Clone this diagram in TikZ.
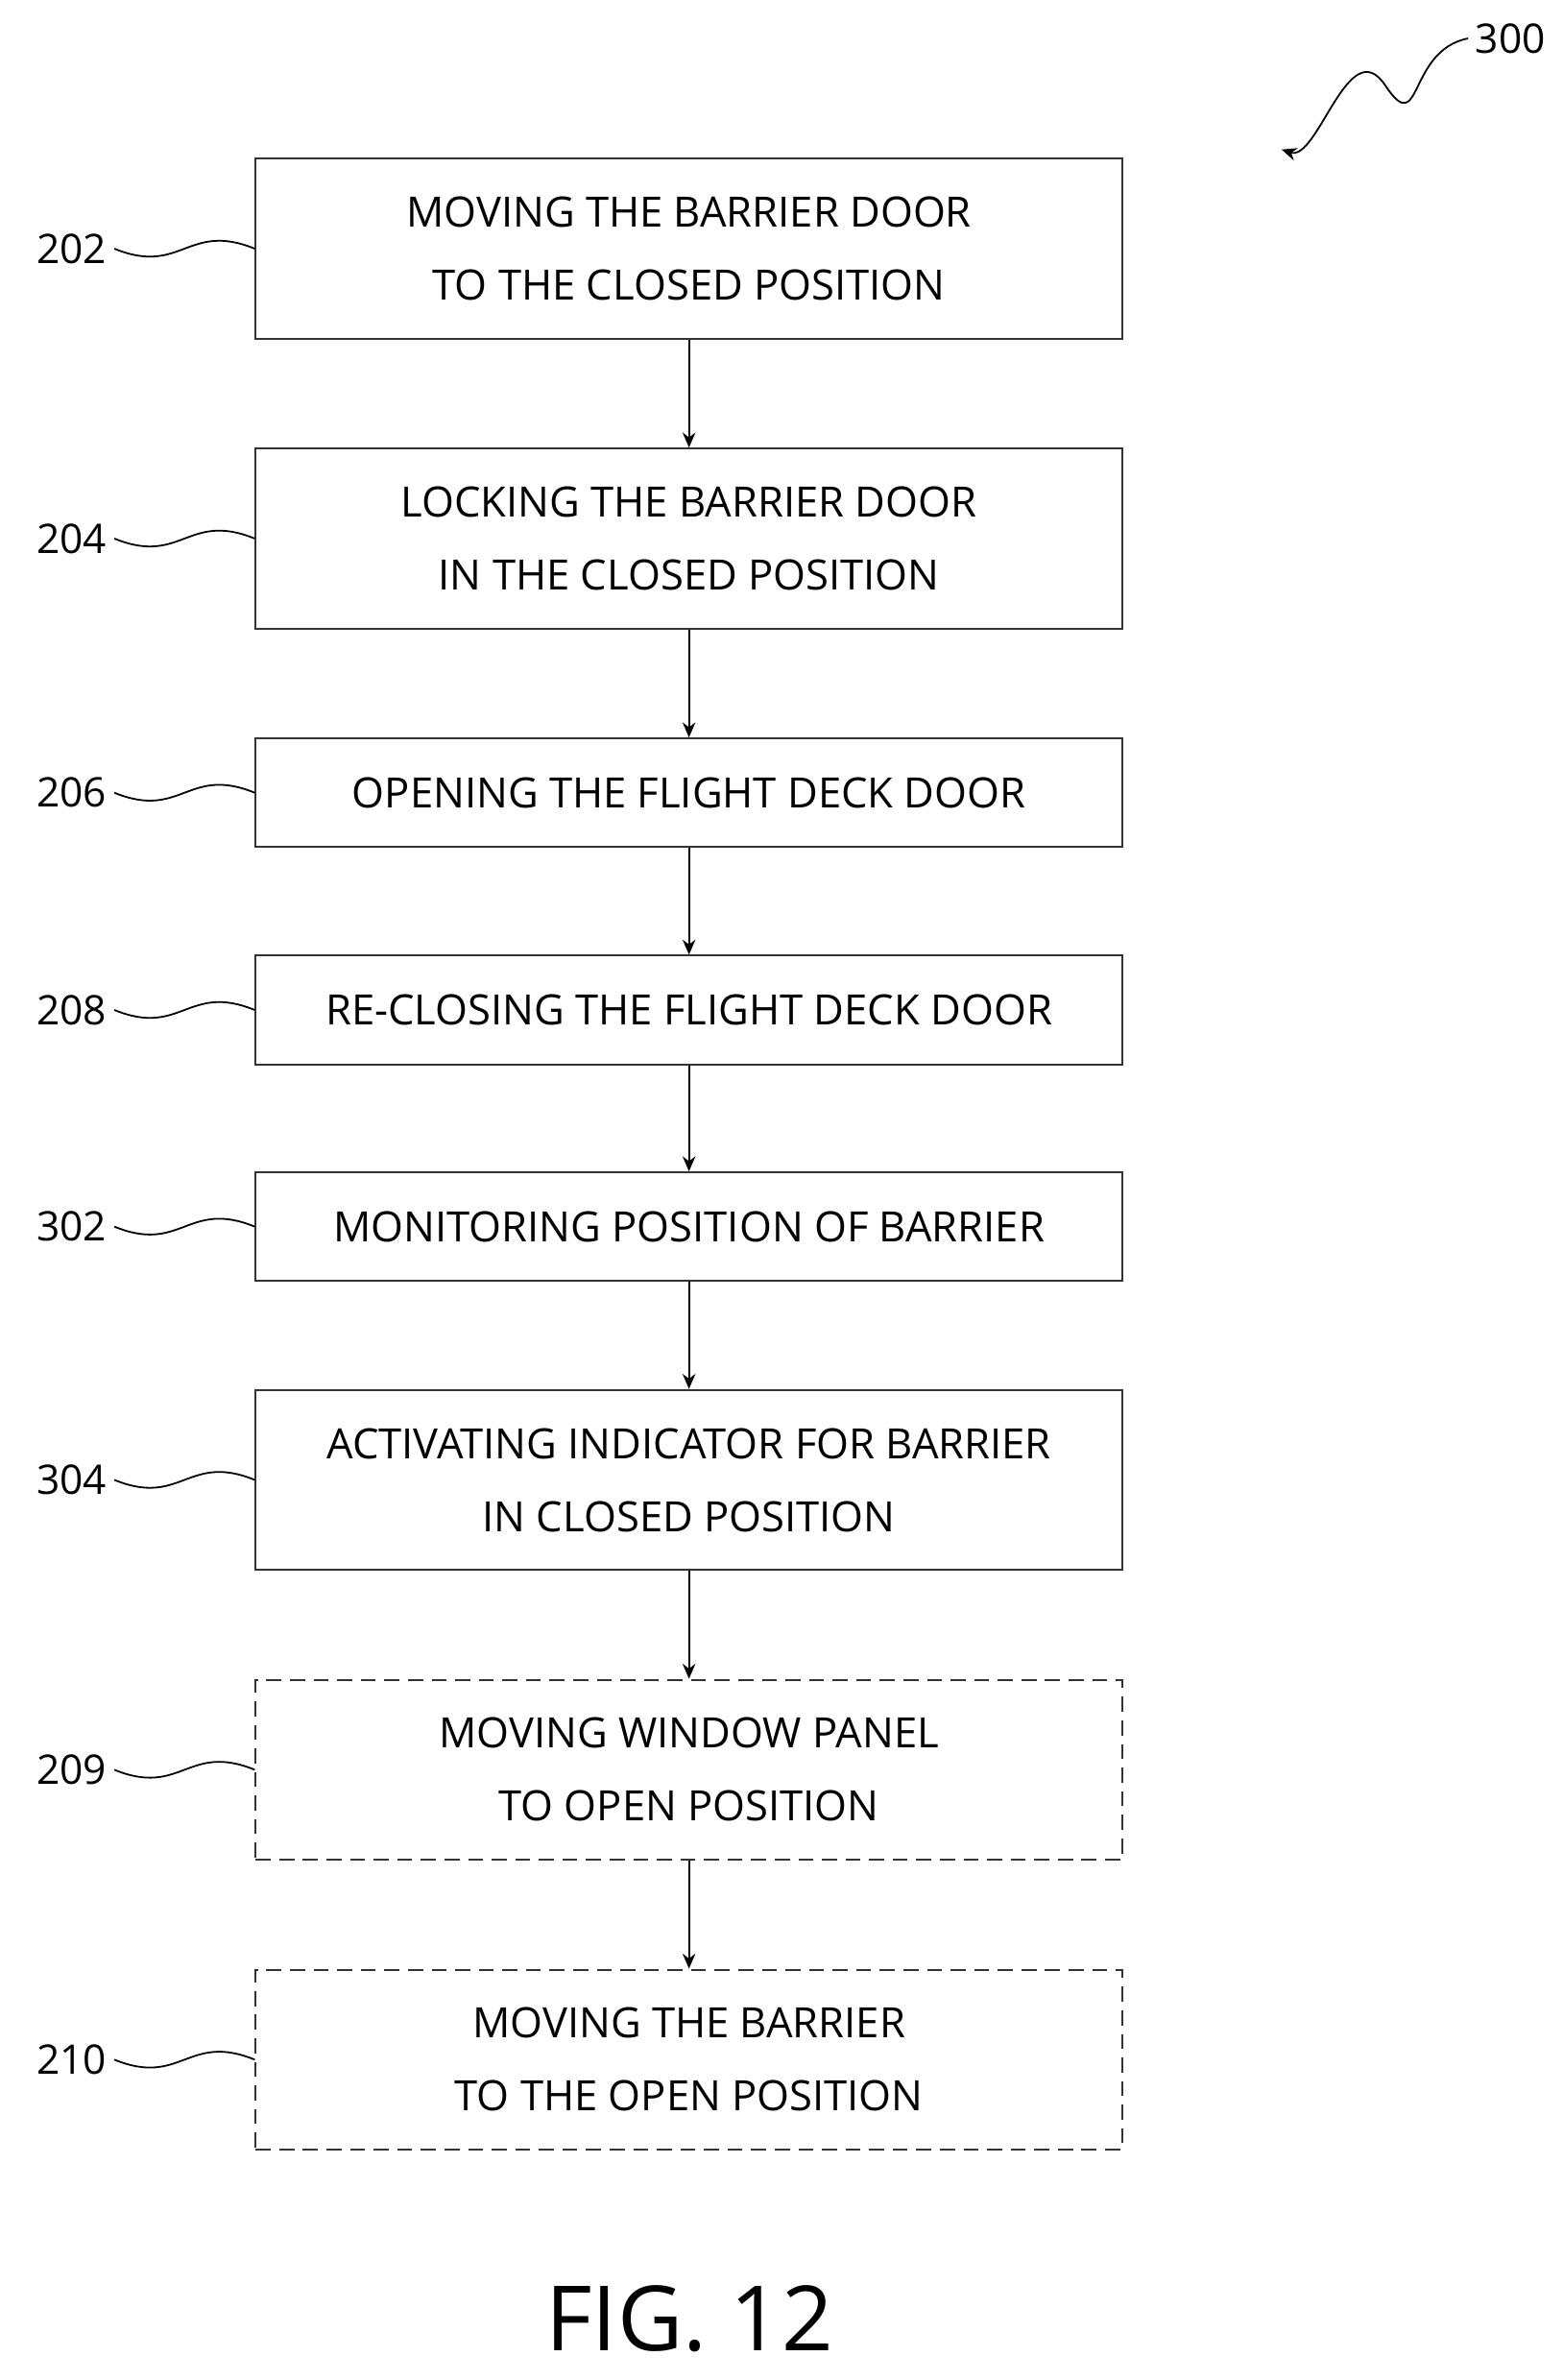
\documentclass[tikz,border=0pt]{standalone}
\usepackage{fontspec}
\setmainfont{Open Sans}
\usetikzlibrary{positioning,arrows.meta}
\tikzset{
  stage/.style = {draw=black!80, line width=0.9pt, minimum width=14.2cm, align=center,
                 font=\fontsize{19.5}{34}\selectfont},
  tall/.style = {stage, minimum height=2.95cm},
  short/.style = {stage, minimum height=1.78cm},
  optional/.style = {dash pattern=on 7pt off 4pt},
  tag/.style = {font=\fontsize{19}{22}\selectfont},
  lead/.style = {line width=0.8pt},
  flow/.style = {line width=0.8pt, -{Stealth[length=7pt,width=6pt]}}
}
\begin{document}
\begin{tikzpicture}
    \useasboundingbox (0,0) rectangle (25.6,-39);

    \node [tall] (s202) at (11.29,-4.075) {MOVING THE BARRIER DOOR\\TO THE CLOSED POSITION};
    \node [tall] (s204) at (11.29,-8.825) {LOCKING THE BARRIER DOOR\\IN THE CLOSED POSITION};
    \node [short] (s206) at (11.29,-12.99) {OPENING THE FLIGHT DECK DOOR};
    \node [short] (s208) at (11.29,-16.55) {RE-CLOSING THE FLIGHT DECK DOOR};
    \node [short] (s302) at (11.29,-20.1) {MONITORING POSITION OF BARRIER};
    \node [tall] (s304) at (11.29,-24.25) {ACTIVATING INDICATOR FOR BARRIER\\IN CLOSED POSITION};
    \node [tall, optional] (s209) at (11.29,-29.0) {MOVING WINDOW PANEL\\TO OPEN POSITION};
    \node [tall, optional] (s210) at (11.29,-33.75) {MOVING THE BARRIER\\TO THE OPEN POSITION};

    % reference numerals
    \foreach \n in {202,204,206,208,302,304,209,210} {
        \node [tag, left=2.3cm of s\n.west] (t\n) {\n};
        \draw [lead] (t\n.east) .. controls +(1.1,-0.45) and +(-1.1,0.45) .. (s\n.west);
    }

    % flow
    \foreach \a/\b in {202/204,204/206,206/208,208/302,302/304,304/209,209/210}
        \draw [flow] (s\a.south) -- (s\b.north);

    \node [tag] (fig) at (24.75,-0.63) {300};
    \coordinate (tip) at (21.0,-2.45);
    \draw [flow] (fig.west) .. controls +(-1.0,-0.2) and +(0.6,-0.9) .. (22.7,-1.4)
        .. controls +(-0.6,0.9) and +(0.6,-0.2) .. (tip);

    \node [font=\fontsize{42}{48}\selectfont] (caption) at (11.3,-38.0) {FIG. 12};
\end{tikzpicture}
\end{document}
